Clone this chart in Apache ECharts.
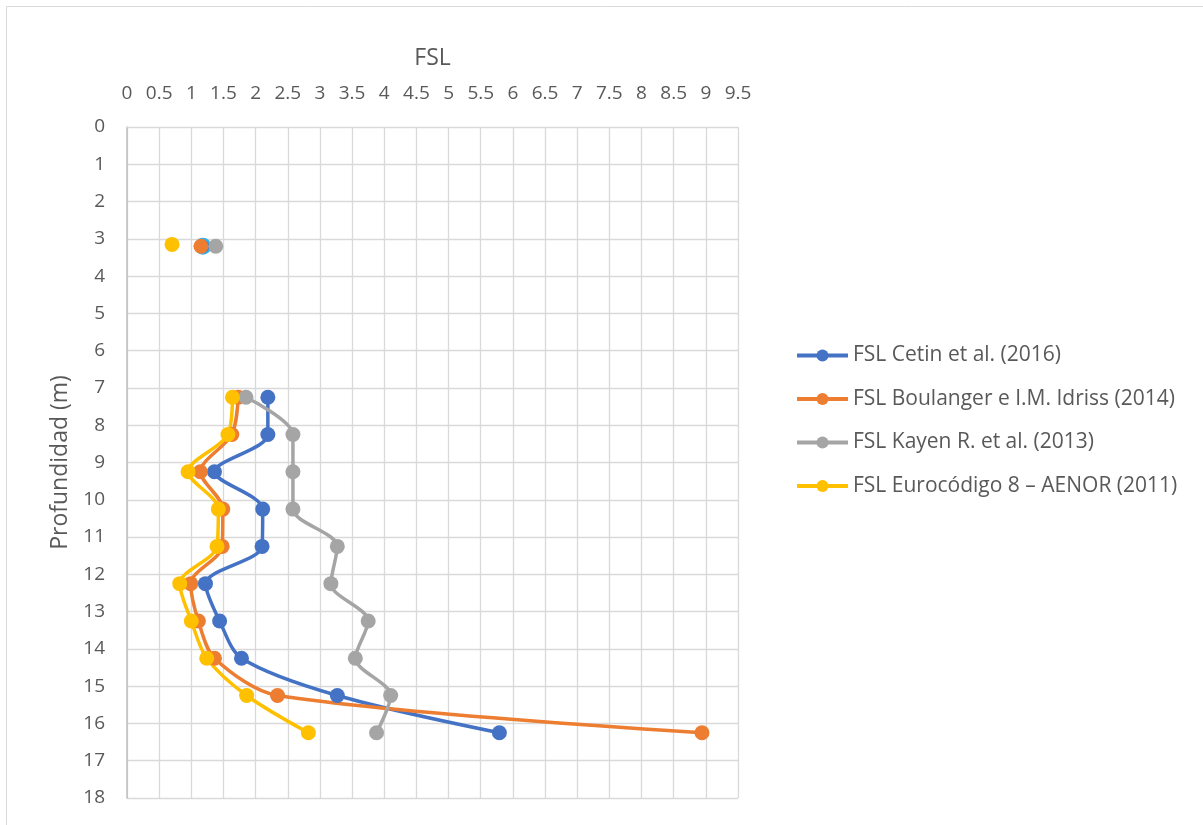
<!DOCTYPE html>
<html style="height: 100%">
   <head>
       <meta charset="utf-8">
   </head>
   <body style="height: 100%; margin: 0; background: #fff">
       <div id="container" style="width: 1203px; height: 825px"></div>
       <script type="text/javascript" src="https://cdn.jsdelivr.net/npm/echarts@6/dist/echarts.min.js"></script>

       <script type="text/javascript">
// profundidad (m) de cada punto, '-' corta la linea
var depthCetin = [3.2, '-', 7.25, 8.25, 9.25, 10.25, 11.25, 12.25, 13.25, 14.25, 15.25, 16.25];
var depthYellow = [3.15, '-', 7.25, 8.25, 9.25, 10.25, 11.25, 12.25, 13.25, 14.25, 15.25, 16.25];
// valores FSL
var fslCetin = [1.18, '-', 2.19, 2.19, 1.36, 2.11, 2.10, 1.22, 1.44, 1.78, 3.27, 5.79];
var fslBoulanger = [1.15, '-', 1.73, 1.63, 1.14, 1.49, 1.48, 0.99, 1.11, 1.36, 2.34, 8.94];
var fslKayen = [1.38, '-', 1.85, 2.58, 2.58, 2.58, 3.27, 3.17, 3.75, 3.55, 4.10, 3.88];
var fslEuro = [0.70, '-', 1.64, 1.57, 0.95, 1.42, 1.40, 0.82, 1.00, 1.24, 1.86, 2.82];

var seriesNames = ['FSL Cetin et al. (2016)', 'FSL Boulanger e I.M. Idriss (2014)', 'FSL Kayen R. et al. (2013)', 'FSL Eurocódigo 8 – AENOR (2011)'];
var colorList = ['#4472C4', '#ED7D31', '#A5A5A5', '#FFC000'];

var dom = document.getElementById("container");
var myChart = echarts.init(dom);
var font = 'Open Sans';

function pairs(xs, ys) {
    return xs.map(function (x, i) {
        return [x, ys[i]];
    });
}

function makeSeries(idx, xs, ys) {
    var data = pairs(xs, ys);
    if (idx == 0) {
        // el punto resaltado en celeste
        data[0] = { value: data[0], itemStyle: { borderColor: '#2fb4f0', borderWidth: 2 } };
    }
    return {
        name: seriesNames[idx],
        type: 'line',
        data: data,
        smooth: 0.3,
        connectNulls: false,
        symbol: 'circle',
        symbolSize: 15,
        showAllSymbol: true,
        color: colorList[idx],
        lineStyle: { width: 3.5, color: colorList[idx] },
        itemStyle: { color: colorList[idx] }
    };
}

option = {
    animation: false,
    textStyle: { fontFamily: font },
    graphic: [{
        type: 'rect',
        shape: { x: 6.5, y: 6.5, width: 1300, height: 900 },
        style: { fill: 'none', stroke: '#d9d9d9', lineWidth: 1 },
        silent: true
    }],
    grid: {
        left: 127,
        right: 465,
        top: 127,
        bottom: 27
    },
    legend: {
        orient: 'vertical',
        left: 790,
        top: 340,
        itemWidth: 51,
        itemHeight: 15,
        itemGap: 22.5,
        lineStyle: { width: 4 },
        textStyle: { fontFamily: font, fontSize: 21, color: '#595959' },
        data: seriesNames
    },
    xAxis: {
        type: 'value',
        position: 'top',
        min: 0,
        max: 9.5,
        interval: 0.5,
        name: 'FSL',
        nameLocation: 'middle',
        nameGap: 57,
        nameTextStyle: { fontFamily: font, fontSize: 23, color: '#595959' },
        axisLine: { show: true, lineStyle: { color: '#d9d9d9', width: 1 } },
        axisTick: { show: false },
        axisLabel: { fontFamily: font, fontSize: 19, color: '#595959', margin: 24 },
        splitLine: { show: true, lineStyle: { color: '#d9d9d9', width: 1.3 } }
    },
    yAxis: {
        type: 'value',
        inverse: true,
        min: 0,
        max: 18,
        interval: 1,
        name: 'Profundidad (m)',
        nameLocation: 'middle',
        nameGap: 55,
        nameTextStyle: { fontFamily: font, fontSize: 23, color: '#595959' },
        axisLine: { show: true, lineStyle: { color: '#bfbfbf', width: 1.5 } },
        axisTick: { show: false },
        axisLabel: { fontFamily: font, fontSize: 19, color: '#595959', margin: 22 },
        splitLine: { show: true, lineStyle: { color: '#d9d9d9', width: 1.3 } }
    },
    series: [
        makeSeries(0, fslCetin, depthCetin),
        makeSeries(1, fslBoulanger, depthCetin),
        makeSeries(2, fslKayen, depthCetin),
        makeSeries(3, fslEuro, depthYellow)
    ]
};

myChart.setOption(option);
       </script>
   </body>
</html>
